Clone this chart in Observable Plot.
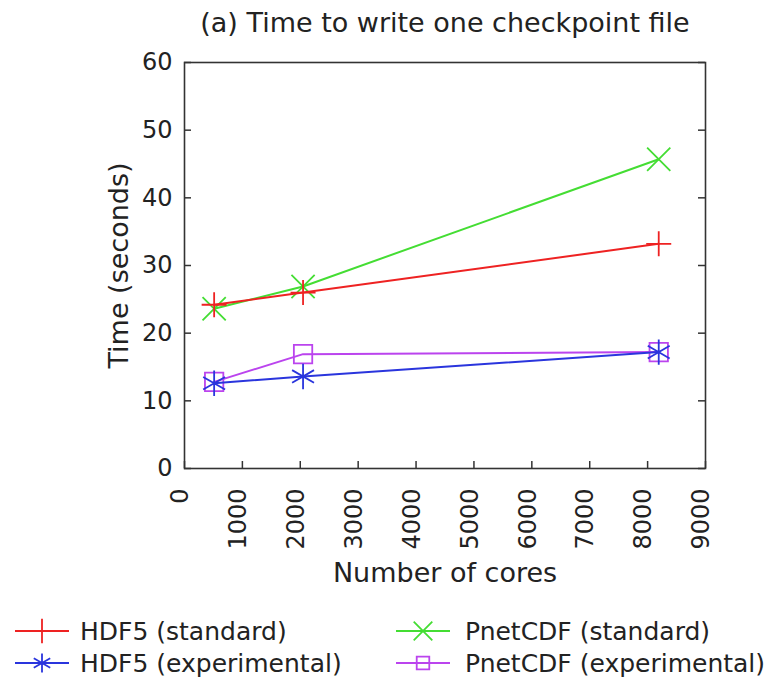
<!DOCTYPE html>
<html>
<head>
<meta charset="utf-8">
<script src="https://cdn.jsdelivr.net/npm/d3@7"></script>
<script src="https://cdn.jsdelivr.net/npm/@observablehq/plot@0.6"></script>
<style>
  html, body { margin: 0; padding: 0; background: #fff; }
  #wrap { position: relative; width: 769px; height: 678px; overflow: hidden; font-family: "DejaVu Sans", sans-serif; color: #222; }
  #chart { position: absolute; left: 0; top: 0; }
  #title { position: absolute; left: 445px; top: 9px; transform: translateX(-50%); font-size: 27px; line-height: 27px; white-space: nowrap; color: #222; }
  .leg-text { position: absolute; font-size: 25px; line-height: 25px; white-space: nowrap; color: #222; }
  .leg-svg { position: absolute; overflow: visible; }
  g[aria-label="y-axis label"], g[aria-label="x-axis label"] { font-size: 27px; }
</style>
</head>
<body>
<div id="wrap">
  <div id="chart"></div>
  <div id="title">(a) Time to write one checkpoint file</div>
  <div id="legend"></div>
</div>
<script>
// ---- data ----
const cores = [512, 2048, 8192];
const hdf5Standard = [24.2, 26.0, 33.2];
const hdf5Experimental = [12.6, 13.6, 17.2];
const pnetcdfStandard = [23.6, 26.9, 45.7];
const pnetcdfExperimental = [12.8, 16.9, 17.2];
const seriesNames = ["HDF5 (standard)", "HDF5 (experimental)", "PnetCDF (standard)", "PnetCDF (experimental)"];
const xTicks = [0, 1000, 2000, 3000, 4000, 5000, 6000, 7000, 8000, 9000];
const yTicks = [0, 10, 20, 30, 40, 50, 60];

// ---- styles ----
const colors = {
  "HDF5 (standard)": "#ee2222",
  "HDF5 (experimental)": "#2a35dd",
  "PnetCDF (standard)": "#44dd33",
  "PnetCDF (experimental)": "#bb44ee"
};
const symbols = {
  "HDF5 (standard)": "plus",
  "HDF5 (experimental)": "asterisk",
  "PnetCDF (standard)": "times",
  "PnetCDF (experimental)": "square2"
};
const radii = {
  "HDF5 (standard)": 8.1,
  "HDF5 (experimental)": 12.0,
  "PnetCDF (standard)": 10.6,
  "PnetCDF (experimental)": 11.7
};

const values = {
  "HDF5 (standard)": hdf5Standard,
  "HDF5 (experimental)": hdf5Experimental,
  "PnetCDF (standard)": pnetcdfStandard,
  "PnetCDF (experimental)": pnetcdfExperimental
};
const rowsOf = name => cores.map((c, i) => ({cores: c, time: values[name][i], series: name}));

const W = 769, H = 600, ML = 184, MR = 64, MT = 62, MB = 132;
const FW = W - ML - MR, FH = H - MT - MB;
const ink = "#333";

const drawOrder = ["PnetCDF (standard)", "HDF5 (standard)", "PnetCDF (experimental)", "HDF5 (experimental)"];
const seriesMarks = drawOrder.flatMap(name => [
  Plot.line(rowsOf(name), {x: "cores", y: "time", stroke: colors[name], strokeWidth: 2}),
  Plot.dot(rowsOf(name), {x: "cores", y: "time", symbol: symbols[name], r: radii[name], stroke: colors[name], strokeWidth: 1.8, fill: "none"})
]);

const plot = Plot.plot({
  width: W, height: H,
  marginLeft: ML, marginRight: MR, marginTop: MT, marginBottom: MB,
  style: {fontFamily: "DejaVu Sans, sans-serif", fontSize: "24px", color: "#222", background: "transparent", overflow: "visible"},
  x: {domain: [0, 9000]},
  y: {domain: [0, 60]},
  marks: [
    Plot.axisY(yTicks, {tickSize: 0, tickPadding: 12, fontSize: 24, tickFormat: d => String(d), label: "Time (seconds)", labelAnchor: "center", labelOffset: 76, labelArrow: "none"}),
    Plot.axisX(xTicks, {tickSize: 0, tickPadding: 20, tickRotate: -90, fontSize: 24, dx: -4, tickFormat: d => String(d), label: "Number of cores", labelAnchor: "center", labelOffset: 113, labelArrow: "none"}),
    Plot.tickY(yTicks, {y: d => d, insetRight: FW - 7, stroke: ink, strokeWidth: 1.5}),
    Plot.tickY(yTicks, {y: d => d, insetLeft: FW - 7, stroke: ink, strokeWidth: 1.5}),
    Plot.tickX(xTicks, {x: d => d, insetTop: FH - 7, stroke: ink, strokeWidth: 1.5}),
    ...seriesMarks,
    Plot.frame({stroke: ink, strokeWidth: 1.6})
  ]
});
document.getElementById("chart").appendChild(plot);

// ---- legend ----
const legendItems = [
  {name: "HDF5 (standard)", x: 15, y: 631, tx: 80, size: 8},
  {name: "HDF5 (experimental)", x: 15, y: 663, tx: 80, size: 9},
  {name: "PnetCDF (standard)", x: 396, y: 631, tx: 465, size: 8.5},
  {name: "PnetCDF (experimental)", x: 396, y: 663, tx: 465, size: 8}
];
const d3sym = {plus: d3.symbolPlus, asterisk: d3.symbolAsterisk, times: d3.symbolTimes, square2: d3.symbolSquare2};
const legend = d3.select("#legend");
legendItems.forEach(it => {
  const svg = legend.append("svg").attr("class", "leg-svg")
    .attr("width", 56).attr("height", 30)
    .style("left", it.x + "px").style("top", (it.y - 15) + "px");
  svg.append("line").attr("x1", 0).attr("x2", 54).attr("y1", 15).attr("y2", 15)
    .attr("stroke", colors[it.name]).attr("stroke-width", 2);
  svg.append("path").attr("transform", "translate(27,15)")
    .attr("d", d3.symbol(d3sym[symbols[it.name]], it.size * it.size * Math.PI)())
    .attr("fill", "none").attr("stroke", colors[it.name]).attr("stroke-width", 1.8);
  legend.append("div").attr("class", "leg-text")
    .style("left", it.tx + "px").style("top", (it.y - 12) + "px")
    .text(it.name);
});
</script>
</body>
</html>
